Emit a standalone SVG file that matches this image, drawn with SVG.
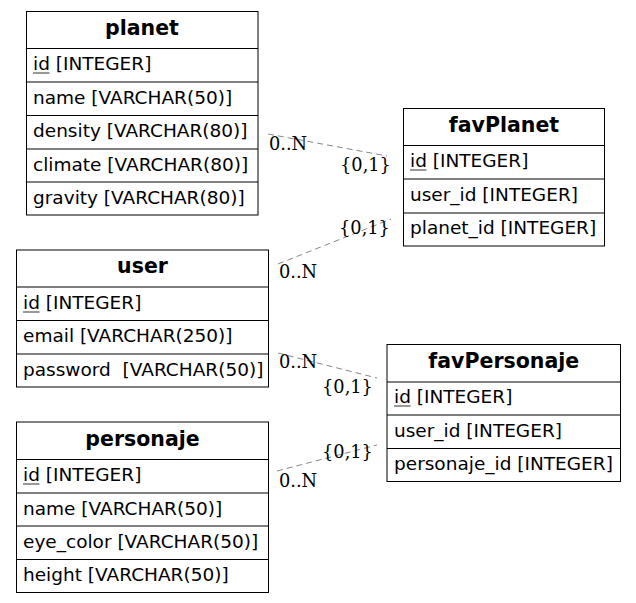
<svg xmlns="http://www.w3.org/2000/svg" width="636" height="603" viewBox="0 0 636 603">
<style>
.box{fill:#fff;stroke:#000;stroke-width:1}
.sep{stroke:#000;stroke-width:1}
.hd{font-family:"DejaVu Sans",sans-serif;font-weight:bold;font-size:20.5px;text-anchor:middle;fill:#000}
.fd{font-family:"DejaVu Sans",sans-serif;font-size:18.5px;fill:#000;white-space:pre}
.ul{stroke:#333;stroke-width:1}
.edge{stroke:#888;stroke-width:1;stroke-dasharray:6,4;fill:none}
.lb{font-family:"DejaVu Serif",serif;font-size:17.8px;fill:#000}
</style>
<rect width="636" height="603" fill="#fff"/>
<g id="connectors">
<line class="edge" x1="268" y1="134" x2="387" y2="156"/>
<line class="edge" x1="278" y1="264" x2="391" y2="219"/>
<line class="edge" x1="278" y1="353" x2="377" y2="378"/>
<line class="edge" x1="277" y1="471" x2="377" y2="445"/>
<text class="lb" x="269" y="150">0..N</text>
<text class="lb" x="340" y="171">{0,1}</text>
<text class="lb" x="339" y="234">{0,1}</text>
<text class="lb" x="279" y="278">0..N</text>
<text class="lb" x="279" y="368">0..N</text>
<text class="lb" x="322" y="393">{0,1}</text>
<text class="lb" x="322" y="458">{0,1}</text>
<text class="lb" x="279" y="487">0..N</text>
</g>
<g id="planet">
<rect class="box" x="26.5" y="11.5" width="231.5" height="203.5"/>
<line class="sep" x1="26.5" y1="48.5" x2="258" y2="48.5"/>
<line class="sep" x1="26.5" y1="82" x2="258" y2="82"/>
<line class="sep" x1="26.5" y1="115.5" x2="258" y2="115.5"/>
<line class="sep" x1="26.5" y1="149" x2="258" y2="149"/>
<line class="sep" x1="26.5" y1="182" x2="258" y2="182"/>
<text class="hd" x="142" y="34.5">planet</text>
<text class="fd" x="33" y="70">id [INTEGER]</text>
<line class="ul" x1="33" y1="73" x2="49.5" y2="73"/>
<text class="fd" x="33" y="104">name [VARCHAR(50)]</text>
<text class="fd" x="33" y="137">density [VARCHAR(80)]</text>
<text class="fd" x="33" y="171">climate [VARCHAR(80)]</text>
<text class="fd" x="33" y="204">gravity [VARCHAR(80)]</text>
</g>
<g id="favPlanet">
<rect class="box" x="403.5" y="108.5" width="201" height="137.5"/>
<line class="sep" x1="403.5" y1="145.5" x2="604.5" y2="145.5"/>
<line class="sep" x1="403.5" y1="179" x2="604.5" y2="179"/>
<line class="sep" x1="403.5" y1="213" x2="604.5" y2="213"/>
<text class="hd" x="504" y="131.5">favPlanet</text>
<text class="fd" x="410" y="167">id [INTEGER]</text>
<line class="ul" x1="410" y1="170" x2="426.5" y2="170"/>
<text class="fd" x="410" y="201">user_id [INTEGER]</text>
<text class="fd" x="410" y="234">planet_id [INTEGER]</text>
</g>
<g id="user">
<rect class="box" x="16.5" y="250" width="252" height="137"/>
<line class="sep" x1="16.5" y1="287" x2="268.5" y2="287"/>
<line class="sep" x1="16.5" y1="320.5" x2="268.5" y2="320.5"/>
<line class="sep" x1="16.5" y1="354" x2="268.5" y2="354"/>
<text class="hd" x="142.5" y="273">user</text>
<text class="fd" x="23" y="309">id [INTEGER]</text>
<line class="ul" x1="23" y1="312" x2="39.5" y2="312"/>
<text class="fd" x="23" y="342">email [VARCHAR(250)]</text>
<text class="fd" x="23" y="376" xml:space="preserve">password  [VARCHAR(50)]</text>
</g>
<g id="personaje">
<rect class="box" x="16.5" y="422" width="252" height="170.5"/>
<line class="sep" x1="16.5" y1="459.5" x2="268.5" y2="459.5"/>
<line class="sep" x1="16.5" y1="493" x2="268.5" y2="493"/>
<line class="sep" x1="16.5" y1="526" x2="268.5" y2="526"/>
<line class="sep" x1="16.5" y1="559.5" x2="268.5" y2="559.5"/>
<text class="hd" x="142.5" y="445.5">personaje</text>
<text class="fd" x="23" y="481">id [INTEGER]</text>
<line class="ul" x1="23" y1="484" x2="39.5" y2="484"/>
<text class="fd" x="23" y="515">name [VARCHAR(50)]</text>
<text class="fd" x="23" y="548">eye_color [VARCHAR(50)]</text>
<text class="fd" x="23" y="581">height [VARCHAR(50)]</text>
</g>
<g id="favPersonaje">
<rect class="box" x="387" y="344.5" width="233.5" height="137"/>
<line class="sep" x1="387" y1="382" x2="620.5" y2="382"/>
<line class="sep" x1="387" y1="415" x2="620.5" y2="415"/>
<line class="sep" x1="387" y1="448.5" x2="620.5" y2="448.5"/>
<text class="hd" x="503.75" y="368">favPersonaje</text>
<text class="fd" x="394" y="403">id [INTEGER]</text>
<line class="ul" x1="394" y1="406" x2="410.5" y2="406"/>
<text class="fd" x="394" y="437">user_id [INTEGER]</text>
<text class="fd" x="394" y="470">personaje_id [INTEGER]</text>
</g>
</svg>
